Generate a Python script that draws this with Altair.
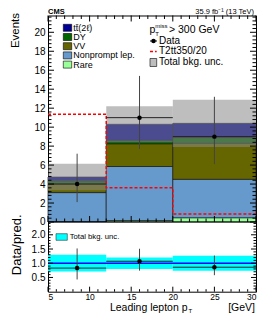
import altair as alt
import pandas as pd
import numpy as np

FONT = "Liberation Sans"

# ---------------- data ----------------
bin_lo = [5, 12, 20]
bin_hi = [12, 20, 30]
bin_center = [8.5, 16, 25]

proc_names = ["Rare", "Nonprompt lep.", "VV", "DY", "tt(2l)"]   # bottom -> top
proc_colors = ["#99ff99", "#6699cc", "#666600", "#006600", "#000099"]
rare = [0.05, 0.15, 0.45]
nonprompt = [3.05, 5.7, 4.05]
vv = [0.94, 2.4, 3.8]
dy = [0.3, 0.35, 0.6]
ttbar = [0.4, 1.7, 1.5]
proc_vals = [rare, nonprompt, vv, dy, ttbar]

bkg_unc = [1.4, 1.9, 2.5]
signal = [11.35, 3.6, 0.85]

data_val = [4, 11, 9]
data_lo = [2.1, 7.7, 6.1]
data_hi = [7.2, 15.4, 13.2]

ratio_val = [0.83, 1.07, 0.86]
ratio_lo = [0.43, 0.74, 0.58]
ratio_hi = [1.52, 1.51, 1.27]
ratio_band_lo = [0.71, 0.80, 0.74]
ratio_band_hi = [1.30, 1.20, 1.26]

x_major = [5, 10, 15, 20, 25, 30]
x_minor = [6, 7, 8, 9, 11, 12, 13, 14, 16, 17, 18, 19, 21, 22, 23, 24, 26, 27, 28, 29]
main_y_major = [0, 2, 4, 6, 8, 10, 12, 14, 16, 18, 20]
main_y_minor = [round(v, 1) for v in np.arange(0, 21.7, 0.4) if abs(v / 2 - round(v / 2)) > 1e-6]
ratio_y_major = [0.5, 1.0, 1.5, 2.0]
ratio_y_minor = [round(v, 1) for v in np.arange(0.1, 2.45, 0.1) if abs(v * 2 - round(v * 2)) > 1e-6]

# ---------------- geometry ----------------
W = 208
HM = 206.5          # main panel height
HT = 276.2          # total height (main + ratio)
MAJ, MIN = 6, 3.5
RMAJ, RMIN = 5, 2.5

# ---------------- tables ----------------
rows = []
for i in range(3):
    base = 0.0
    for name, vals in zip(proc_names, proc_vals):
        rows.append(dict(lo=bin_lo[i], hi=bin_hi[i], y0=base, y1=base + vals[i], proc=name))
        base += vals[i]
stack_df = pd.DataFrame(rows)
total = [sum(v[i] for v in proc_vals) for i in range(3)]
unc_df = pd.DataFrame(dict(lo=bin_lo, hi=bin_hi,
                           u0=[t - u for t, u in zip(total, bkg_unc)],
                           u1=[t + u for t, u in zip(total, bkg_unc)]))
sig_df = pd.DataFrame(dict(x=bin_lo + [bin_hi[-1]], y=signal + [signal[-1]]))
data_df = pd.DataFrame(dict(c=bin_center, lo=bin_lo, hi=bin_hi, v=data_val, elo=data_lo, ehi=data_hi))
ratio_df = pd.DataFrame(dict(c=bin_center, lo=bin_lo, hi=bin_hi, v=ratio_val, elo=ratio_lo, ehi=ratio_hi,
                             b0=ratio_band_lo, b1=ratio_band_hi))

# ---------------- scales / axes ----------------
xs = alt.Scale(domain=[5, 30], nice=False, zero=False)
ax_x = alt.Axis(values=x_major, ticks=False, domain=False, grid=False, labelFont=FONT,
                labelFontSize=8.5, labelPadding=1, labelColor="black", title=None)
ys_main = alt.Scale(domain=[0, 21.77], range=[HM, 0], nice=False, zero=False)
ax_main = alt.Axis(values=main_y_major, ticks=False, domain=False, grid=False, labelFont=FONT,
                   labelFontSize=10, labelPadding=3, labelColor="black", title=None, orient="left")
ys_ratio = alt.Scale(domain=[0, 2.45], range=[HT, HM], nice=False, zero=False)
ax_ratio = alt.Axis(values=ratio_y_major, format=".1f", ticks=False, domain=False, grid=False,
                    labelFont=FONT, labelFontSize=10, labelPadding=3, labelColor="black",
                    title=None, orient="left")


def X(f):
    return alt.X(f, type="quantitative", scale=xs, axis=ax_x)


def YM(f):
    return alt.Y(f, type="quantitative", scale=ys_main, axis=ax_main)


def YR(f):
    return alt.Y(f, type="quantitative", scale=ys_ratio, axis=ax_ratio)


one = alt.Data(values=[{"a": 1}])


def txt(s, x, y, size, align="left", baseline="middle", **kw):
    return alt.Chart(one).mark_text(text=s, fontSize=size, align=align, baseline=baseline,
                                    font=FONT, color="black", **kw).encode(
        x=alt.value(x), y=alt.value(y))


def box(x0, x1, y0, y1, **kw):
    return alt.Chart(one).mark_rect(**kw).encode(
        x=alt.value(x0), x2=alt.value(x1), y=alt.value(y0), y2=alt.value(y1))


# ---------------- main panel ----------------
stack = alt.Chart(stack_df).mark_rect(stroke="#1a1a1a", strokeWidth=0.7).encode(
    x=X("lo"), x2="hi", y=YM("y0"), y2="y1",
    color=alt.Color("proc:N", scale=alt.Scale(domain=proc_names, range=proc_colors), legend=None))
unc = alt.Chart(unc_df).mark_rect(fill="#888888", fillOpacity=0.55).encode(
    x=X("lo"), x2="hi", y=YM("u0"), y2="u1")
sig = alt.Chart(sig_df).mark_line(interpolate="step-after", color="#ff0000", strokeDash=[3, 2],
                                  strokeWidth=1.5).encode(x=X("x"), y=YM("y"))
d_v = alt.Chart(data_df).mark_rule(color="#444444", strokeWidth=1).encode(x=X("c"), y=YM("elo"), y2="ehi")
d_h = alt.Chart(data_df).mark_rule(color="#222222", strokeWidth=1).encode(x=X("lo"), x2="hi", y=YM("v"))
d_p = alt.Chart(data_df).mark_circle(color="black", size=20, opacity=1).encode(x=X("c"), y=YM("v"))

mx = pd.DataFrame(dict(v=x_major))
mn = pd.DataFrame(dict(v=x_minor))
my = pd.DataFrame(dict(v=main_y_major))
myn = pd.DataFrame(dict(v=main_y_minor))
ry = pd.DataFrame(dict(v=ratio_y_major))
ryn = pd.DataFrame(dict(v=ratio_y_minor))

tk = dict(color="black", strokeWidth=1)
ticks_main = [
    alt.Chart(my).mark_rule(**tk).encode(y=YM("v"), x=alt.value(0), x2=alt.value(MAJ)),
    alt.Chart(myn).mark_rule(**tk).encode(y=YM("v"), x=alt.value(0), x2=alt.value(MIN)),
    alt.Chart(my).mark_rule(**tk).encode(y=YM("v"), x=alt.value(W - MAJ), x2=alt.value(W)),
    alt.Chart(myn).mark_rule(**tk).encode(y=YM("v"), x=alt.value(W - MIN), x2=alt.value(W)),
    alt.Chart(mx).mark_rule(**tk).encode(x=X("v"), y=alt.value(HM), y2=alt.value(HM - MAJ)),
    alt.Chart(mn).mark_rule(**tk).encode(x=X("v"), y=alt.value(HM), y2=alt.value(HM - MIN)),
    alt.Chart(mx).mark_rule(**tk).encode(x=X("v"), y=alt.value(0), y2=alt.value(MAJ)),
    alt.Chart(mn).mark_rule(**tk).encode(x=X("v"), y=alt.value(0), y2=alt.value(MIN)),
]
sep = alt.Chart(one).mark_rule(color="black", strokeWidth=1).encode(
    x=alt.value(0), x2=alt.value(W), y=alt.value(HM))

# legends
leg_left = []
for k, name in enumerate(["tt\u0304(2\u2113)", "DY", "VV", "Nonprompt lep.", "Rare"]):
    yc = 12.3 + 9.2 * k
    col = proc_colors[::-1][k]
    leg_left.append(box(15.3, 23.7, yc - 3.5, yc + 3.5, fill=col, stroke="black", strokeWidth=0.6))
    leg_left.append(txt(name, 25.3, yc, 9))

leg_right = [
    txt("p", 101.5, 17.5, 10.5, baseline="alphabetic"),
    txt("miss", 107.3, 12.5, 6, baseline="alphabetic"),
    txt("T", 107.3, 20.5, 6, baseline="alphabetic"),
    txt("> 300 GeV", 121, 17.5, 10.5, baseline="alphabetic"),
    alt.Chart(one).mark_rule(color="black", strokeWidth=1).encode(
        x=alt.value(102), x2=alt.value(109), y=alt.value(25.5)),
    alt.Chart(one).mark_circle(color="black", size=20, opacity=1).encode(
        x=alt.value(105.5), y=alt.value(25.5)),
    txt("Data", 111, 25.5, 10),
    alt.Chart(one).mark_rule(color="#ff0000", strokeWidth=1.5, strokeDash=[3, 2]).encode(
        x=alt.value(102), x2=alt.value(108.7), y=alt.value(36)),
    txt("T2tt350/20", 111, 36, 10),
    box(102, 108.7, 43, 51, fill="#888888", fillOpacity=0.55, stroke="black", strokeWidth=0.6),
    txt("Total bkg. unc.", 111, 47, 10),
]

header = [
    txt("CMS", 0, -1.2, 7.5, baseline="alphabetic", fontWeight="bold"),
    txt("35.9 fb\u207b\u00b9 (13 TeV)", 206, -1.2, 7.5, align="right", baseline="alphabetic"),
    txt("Events", -29.5, -2.5, 11.5, align="right", baseline="alphabetic", angle=270),
    txt("Data/pred.", -27.5, 199, 13, align="right", baseline="alphabetic", angle=270),
    txt("Leading lepton p", 139.5, 295.7, 10.5, align="right", baseline="alphabetic"),
    txt("T", 140.5, 297.1, 6, baseline="alphabetic"),
    txt("[GeV]", 207, 295.7, 10.5, align="right", baseline="alphabetic"),
]

main = alt.layer(stack, unc, sig, d_v, d_h, d_p, *ticks_main, sep, *leg_left, *leg_right, *header)

# ---------------- ratio panel ----------------
band = alt.Chart(ratio_df).mark_rect(fill="#00ffff").encode(x=X("lo"), x2="hi", y=YR("b0"), y2="b1")
one_line = alt.Chart(pd.DataFrame(dict(r=[1.0]))).mark_rule(color="#0000ff", strokeWidth=1.3).encode(y=YR("r"))
r_v = alt.Chart(ratio_df).mark_rule(color="#444444", strokeWidth=1).encode(x=X("c"), y=YR("elo"), y2="ehi")
r_h = alt.Chart(ratio_df).mark_rule(color="#222222", strokeWidth=1).encode(x=X("lo"), x2="hi", y=YR("v"))
r_p = alt.Chart(ratio_df).mark_circle(color="black", size=20, opacity=1).encode(x=X("c"), y=YR("v"))
ticks_ratio = [
    alt.Chart(ry).mark_rule(**tk).encode(y=YR("v"), x=alt.value(0), x2=alt.value(RMAJ)),
    alt.Chart(ryn).mark_rule(**tk).encode(y=YR("v"), x=alt.value(0), x2=alt.value(RMIN)),
    alt.Chart(ry).mark_rule(**tk).encode(y=YR("v"), x=alt.value(W - RMAJ), x2=alt.value(W)),
    alt.Chart(ryn).mark_rule(**tk).encode(y=YR("v"), x=alt.value(W - RMIN), x2=alt.value(W)),
    alt.Chart(mx).mark_rule(**tk).encode(x=X("v"), y=alt.value(HT), y2=alt.value(HT - RMAJ)),
    alt.Chart(mn).mark_rule(**tk).encode(x=X("v"), y=alt.value(HT), y2=alt.value(HT - RMIN)),
]
leg_ratio = [
    box(8, 19.3, 218.2, 224.8, fill="#00ffff", stroke="#333333", strokeWidth=0.6),
    txt("Total bkg. unc.", 21.7, 221.5, 7.7),
]
ratio = alt.layer(band, one_line, r_v, r_h, r_p, *ticks_ratio, *leg_ratio)

chart = alt.layer(main, ratio).resolve_scale(y="independent").properties(
    width=W, height=HT,
    autosize=alt.AutoSizeParams(type="none"),
    padding={"left": 40, "top": 7.5, "right": 1, "bottom": 22.2},
    background="white",
).configure_view(stroke="black", strokeWidth=1)

chart.save("out.html", embed_options={"renderer": "svg", "actions": False})
